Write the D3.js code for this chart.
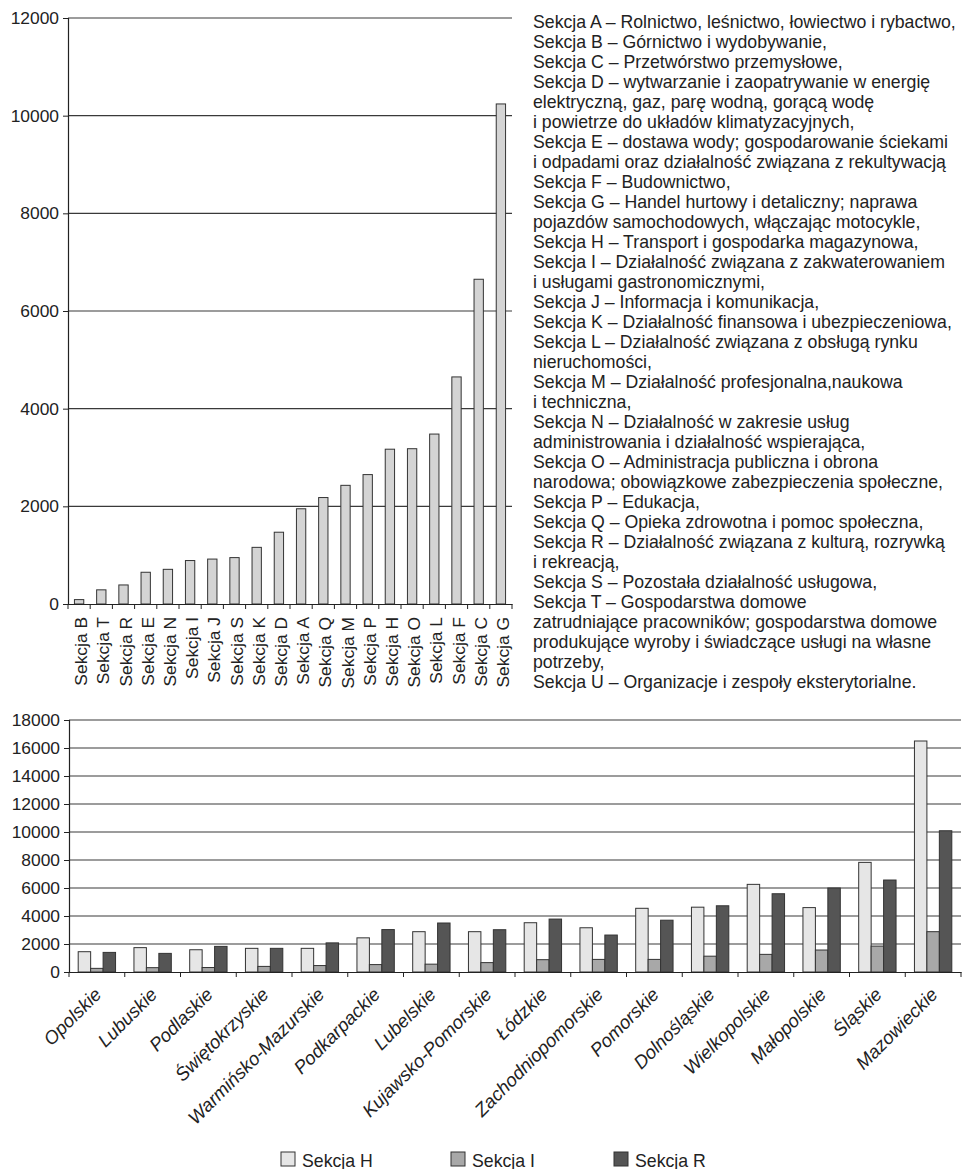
<!DOCTYPE html>
<html>
<head>
<meta charset="utf-8">
<script src="https://cdn.jsdelivr.net/npm/d3@7/dist/d3.min.js"></script>
<style>
  html, body { margin: 0; padding: 0; background: #fff; }
  svg { display: block; font-family: "Liberation Sans", Arial, sans-serif; }
</style>
</head>
<body>
<svg id="chart" width="963" height="1169"></svg>
<script>
// ---------- DATA ----------
const sectionCategories = ["Sekcja B","Sekcja T","Sekcja R","Sekcja E","Sekcja N","Sekcja I","Sekcja J","Sekcja S","Sekcja K","Sekcja D","Sekcja A","Sekcja Q","Sekcja M","Sekcja P","Sekcja H","Sekcja O","Sekcja L","Sekcja F","Sekcja C","Sekcja G"];
const sectionValues = [90, 290, 390, 650, 710, 890, 920, 950, 1160, 1470, 1950, 2180, 2430, 2650, 3170, 3180, 3480, 4650, 6650, 10240];
const topTicks = [0, 2000, 4000, 6000, 8000, 10000, 12000];

const regions = ["Opolskie","Lubuskie","Podlaskie","Świętokrzyskie","Warmińsko-Mazurskie","Podkarpackie","Lubelskie","Kujawsko-Pomorskie","Łódzkie","Zachodniopomorskie","Pomorskie","Dolnośląskie","Wielkopolskie","Małopolskie","Śląskie","Mazowieckie"];
const sekcjaH = [1450, 1740, 1590, 1690, 1690, 2440, 2880, 2880, 3520, 3160, 4550, 4630, 6260, 4600, 7830, 16500];
const sekcjaI = [260, 310, 320, 400, 460, 530, 560, 670, 880, 900, 900, 1130, 1260, 1570, 1850, 2880];
const sekcjaR = [1400, 1330, 1830, 1690, 2080, 3030, 3500, 3020, 3780, 2640, 3700, 4730, 5590, 6000, 6570, 10090];
const seriesNames = ["Sekcja H", "Sekcja I", "Sekcja R"];
const bottomTicks = [0, 2000, 4000, 6000, 8000, 10000, 12000, 14000, 16000, 18000];

const legendLines = [
  "Sekcja A – Rolnictwo, leśnictwo, łowiectwo i rybactwo,",
  "Sekcja B – Górnictwo i wydobywanie,",
  "Sekcja C – Przetwórstwo przemysłowe,",
  "Sekcja D – wytwarzanie i zaopatrywanie w energię",
  "elektryczną, gaz, parę wodną, gorącą wodę",
  "i powietrze do układów klimatyzacyjnych,",
  "Sekcja E – dostawa wody; gospodarowanie ściekami",
  "i odpadami oraz działalność związana z rekultywacją",
  "Sekcja F – Budownictwo,",
  "Sekcja G – Handel hurtowy i detaliczny; naprawa",
  "pojazdów samochodowych, włączając motocykle,",
  "Sekcja H – Transport i gospodarka magazynowa,",
  "Sekcja I – Działalność związana z zakwaterowaniem",
  "i usługami gastronomicznymi,",
  "Sekcja J – Informacja i komunikacja,",
  "Sekcja K – Działalność finansowa i ubezpieczeniowa,",
  "Sekcja L – Działalność związana z obsługą rynku",
  "nieruchomości,",
  "Sekcja M – Działalność profesjonalna,naukowa",
  "i techniczna,",
  "Sekcja N – Działalność w zakresie usług",
  "administrowania i działalność wspierająca,",
  "Sekcja O – Administracja publiczna i obrona",
  "narodowa; obowiązkowe zabezpieczenia społeczne,",
  "Sekcja P – Edukacja,",
  "Sekcja Q – Opieka zdrowotna i pomoc społeczna,",
  "Sekcja R – Działalność związana z kulturą, rozrywką",
  "i rekreacją,",
  "Sekcja S – Pozostała działalność usługowa,",
  "Sekcja T – Gospodarstwa domowe",
  "zatrudniające pracowników; gospodarstwa domowe",
  "produkujące wyroby i świadczące usługi na własne",
  "potrzeby,",
  "Sekcja U – Organizacje i zespoły eksterytorialne."
];

// ---------- STYLE ----------
const FONT = 17.4;
const TEXT_FONT = 17.7;
const REGION_FONT = 18.6;
const INK = "#222";
const GRID = "#3a3a3a";
const seriesColors = ["#e6e6e6", "#a8a8a8", "#555555"];

const svg = d3.select("#chart");

// ---------- TOP CHART ----------
(function () {
  const L = 68, R = 512, T = 18, B = 604;
  const x = d3.scaleBand().domain(sectionCategories).range([L, R]).paddingInner(0.58).paddingOuter(0.29);
  const y = d3.scaleLinear().domain([0, 12000]).range([B, T]);
  const g = svg.append("g");

  g.append("g").selectAll("line").data(topTicks.filter(d => d > 0)).join("line")
    .attr("x1", L).attr("x2", R).attr("y1", d => y(d)).attr("y2", d => y(d))
    .attr("stroke", GRID).attr("stroke-width", 1.2);

  const ya = g.append("g").attr("transform", `translate(${L},0)`)
    .call(d3.axisLeft(y).tickValues(topTicks).tickSize(5).tickPadding(4).tickFormat(d3.format("d")));
  ya.select(".domain").attr("stroke", INK).attr("stroke-width", 1.2);
  ya.selectAll(".tick line").attr("stroke", INK);
  ya.selectAll("text").attr("font-size", FONT).attr("fill", INK).attr("font-family", "Liberation Sans, Arial");

  g.append("g").selectAll("rect").data(sectionValues).join("rect")
    .attr("x", (d, i) => x(sectionCategories[i]))
    .attr("width", x.bandwidth())
    .attr("y", d => y(d))
    .attr("height", d => y(0) - y(d))
    .attr("fill", "#d4d4d4").attr("stroke", "#333").attr("stroke-width", 1);

  const step = x.step();
  const xa = g.append("g").attr("transform", `translate(0,${B})`)
    .call(d3.axisBottom(x).tickSize(0).tickPadding(0));
  xa.select(".domain").attr("stroke", INK).attr("stroke-width", 1.2);
  xa.selectAll(".tick text")
    .attr("font-size", FONT).attr("fill", INK).attr("font-family", "Liberation Sans, Arial")
    .attr("text-anchor", "end")
    .attr("transform", "translate(2,13) rotate(-90)")
    .attr("x", 0).attr("y", 0).attr("dy", "0.35em");
  g.append("g").selectAll("line").data(d3.range(sectionCategories.length + 1)).join("line")
    .attr("x1", i => L + i * step).attr("x2", i => L + i * step)
    .attr("y1", B).attr("y2", B + 5).attr("stroke", INK);
})();

// ---------- RIGHT TEXT ----------
svg.append("g").selectAll("text").data(legendLines).join("text")
  .attr("x", 533).attr("y", (d, i) => 27.7 + i * 20)
  .attr("font-size", TEXT_FONT).attr("fill", INK)
  .text(d => d);

// ---------- BOTTOM CHART ----------
(function () {
  const L = 69, R = 961, T = 720, B = 972;
  const x0 = d3.scaleBand().domain(regions).range([L, R]).paddingInner(0.33).paddingOuter(0.165);
  const x1 = d3.scaleBand().domain(seriesNames).range([0, x0.bandwidth()]).padding(0);
  const y = d3.scaleLinear().domain([0, 18000]).range([B, T]);
  const color = d3.scaleOrdinal().domain(seriesNames).range(seriesColors);
  const seriesData = [sekcjaH, sekcjaI, sekcjaR];
  const g = svg.append("g");

  g.append("g").selectAll("line").data(bottomTicks.filter(d => d > 0)).join("line")
    .attr("x1", L).attr("x2", R).attr("y1", d => y(d)).attr("y2", d => y(d))
    .attr("stroke", GRID).attr("stroke-width", 1.2);

  const ya = g.append("g").attr("transform", `translate(${L},0)`)
    .call(d3.axisLeft(y).tickValues(bottomTicks).tickSize(5).tickPadding(4).tickFormat(d3.format("d")));
  ya.select(".domain").attr("stroke", INK).attr("stroke-width", 1.2);
  ya.selectAll(".tick line").attr("stroke", INK);
  ya.selectAll("text").attr("font-size", FONT).attr("fill", INK).attr("font-family", "Liberation Sans, Arial");

  const groups = g.append("g").selectAll("g").data(regions).join("g")
    .attr("transform", d => `translate(${x0(d)},0)`);
  groups.selectAll("rect")
    .data((d, i) => seriesNames.map((s, k) => ({ s, v: seriesData[k][i] })))
    .join("rect")
    .attr("x", d => x1(d.s))
    .attr("width", x1.bandwidth())
    .attr("y", d => y(d.v))
    .attr("height", d => y(0) - y(d.v))
    .attr("fill", d => color(d.s))
    .attr("stroke", "#333").attr("stroke-width", 1);

  const step = x0.step();
  const xa = g.append("g").attr("transform", `translate(0,${B})`)
    .call(d3.axisBottom(x0).tickSize(0).tickPadding(0));
  xa.select(".domain").attr("stroke", INK).attr("stroke-width", 1.2);
  xa.selectAll(".tick text")
    .attr("font-size", REGION_FONT).attr("fill", INK).attr("font-style", "italic")
    .attr("font-family", "Liberation Sans, Arial")
    .attr("text-anchor", "end")
    .attr("transform", "translate(1,19) rotate(-45)")
    .attr("x", 0).attr("y", 0).attr("dy", "0.35em");
  g.append("g").selectAll("line").data(d3.range(regions.length + 1)).join("line")
    .attr("x1", i => L + i * step).attr("x2", i => L + i * step)
    .attr("y1", B).attr("y2", B + 5).attr("stroke", INK);

  // legend
  const legendX = [281, 451, 614];
  const lg = g.append("g").selectAll("g").data(seriesNames).join("g")
    .attr("transform", (d, i) => `translate(${legendX[i]},1152)`);
  lg.append("rect").attr("width", 14).attr("height", 14)
    .attr("fill", d => color(d)).attr("stroke", "#333");
  lg.append("text").attr("x", 21).attr("y", 14.5)
    .attr("font-size", TEXT_FONT).attr("fill", INK).text(d => d);
})();
</script>
</body>
</html>
